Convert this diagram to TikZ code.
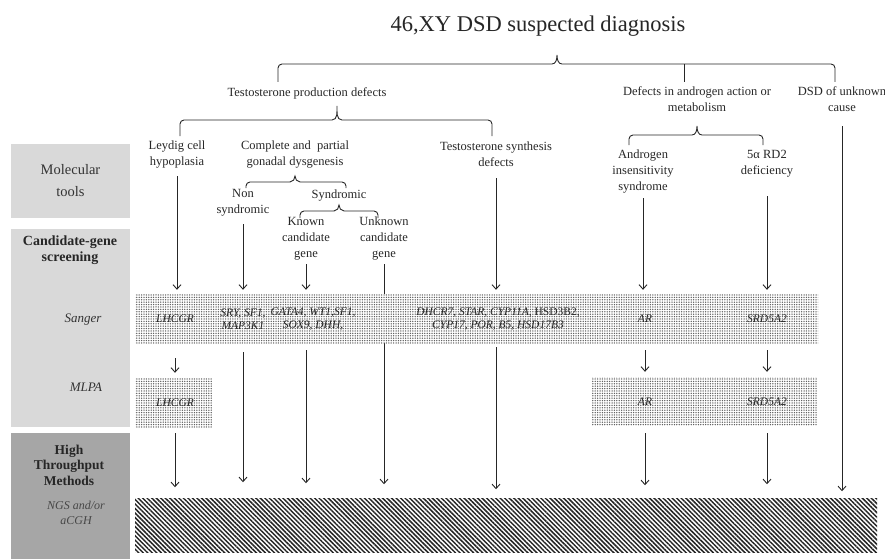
\documentclass[tikz,border=0pt]{standalone}
\usepackage{fontspec}
\setmainfont{Liberation Serif}
\usetikzlibrary{arrows.meta,patterns.meta}
\definecolor{ink}{HTML}{262626}
\definecolor{lgray}{HTML}{D9D9D9}
\definecolor{dgray}{HTML}{A6A6A6}
\definecolor{gtext}{HTML}{333333}
\newcommand{\fsz}[2]{\fontsize{#1}{#2}\selectfont}
\newcommand{\cbrace}[6]{%
  \draw[conn] (#1,#5) -- (#1,#4+4) to[out=90,in=180] (#1+4,#4) -- (#2-5,#4)
    to[out=0,in=270] (#2,#6) to[out=270,in=180] (#2+5,#4) -- (#3-4,#4)
    to[out=0,in=90] (#3,#4+4) -- (#3,#5);}
\tikzset{
  lab/.style={inner sep=0pt, align=center, text=ink, font=\fsz{12.5}{16}},
  gene/.style={inner sep=0pt, align=center, text=black!85, font=\fsz{11.5}{13}\itshape},
  side/.style={inner sep=0pt, align=center, text=gtext},
  conn/.style={draw=ink, line width=0.9pt},
  arr/.style={conn, -{Straight Barb[length=4.5pt,width=8pt]}},
  dotbox/.style={preaction={fill=white}, pattern={Dots[distance=2.4pt,radius=0.75pt]}, pattern color=black!62, inner sep=0pt},
  hatch/.style={pattern={Lines[angle=-45,distance=3.2pt,line width=1.5pt]}, pattern color=black!85, inner sep=0pt},
}
\begin{document}
\begin{tikzpicture}[x=1pt,y=-1pt]
\useasboundingbox (0,0) rectangle (885,559);

% title and category labels
\node[font=\fsz{22.5}{27}, text=ink, inner sep=0pt, anchor=base] (title) at (538,32) {46,XY DSD suspected diagnosis};
\node[lab, anchor=base] (tpd) at (307,97) {Testosterone production defects};
\node[lab] (daa) at (697,99.5) {Defects in androgen action or\\metabolism};
\node[lab] (unk) at (842,99.5) {DSD of unknown\\cause};
\node[lab] (ley) at (177,154.5) {Leydig cell\\hypoplasia};
\node[lab] (gon) at (295,154.5) {Complete and\ \ partial\\gonadal dysgenesis};
\node[lab] (tsd) at (496,154.5) {Testosterone synthesis\\defects};
\node[lab] (nons) at (243,202.5) {Non\\syndromic};
\node[lab, anchor=base] (synd) at (339,198) {Syndromic};
\node[lab] (known) at (306,238.5) {Known\\candidate\\gene};
\node[lab] (unkc) at (384,238.5) {Unknown\\candidate\\gene};
\node[lab] (ais) at (643,171.5) {Androgen\\insensitivity\\syndrome};
\node[lab] (rd2) at (767,163.5) {5α RD2\\deficiency};

% braces
\cbrace{278}{557}{835}{64}{82}{55}
\draw[conn] (684,64) -- (684,82);
\cbrace{180}{337}{492}{120}{136}{106}
\cbrace{629}{697}{763}{135}{145}{126}
\cbrace{246}{295}{346}{182}{188}{176}
\cbrace{300}{339}{378}{211}{218}{205}

% left panel
\node[fill=lgray, minimum width=119pt, minimum height=74pt, inner sep=0pt, font=\fsz{14.5}{22}, text=gtext, align=center] (mol) at (70.5,181) {Molecular\\tools};
\fill[lgray] (11,229) rectangle (130,427);
\node[side, font=\fsz{14}{15.5}\bfseries, text=black!85] (cgs) at (70,250) {Candidate-gene\\screening};
\node[side, font=\fsz{13}{15}\itshape, anchor=base] (sang) at (83,322) {Sanger};
\node[side, font=\fsz{13}{15}\itshape, anchor=base] (mlpa) at (86,391) {MLPA};
\fill[dgray] (11,433) rectangle (130,559);
\node[side, font=\fsz{13.5}{15.5}\bfseries, text=black!85] (htm) at (69,465) {High\\Throughput\\Methods};
\node[side, font=\fsz{12}{15}\itshape, text=black!72] (ngs) at (76,513) {NGS and/or\\aCGH};

% NGS box
\node[hatch, minimum width=742pt, minimum height=54pt] (ngsbox) at (506,525) {};

% line hidden behind the Sanger box
\draw[arr] ([yshift=-4pt]unkc.south) -- ([yshift=13pt]unkc.south |- ngsbox.north);

% Sanger and MLPA boxes
\node[dotbox, minimum width=683pt, minimum height=49pt] (sanger) at (476.5,318.5) {};
\node[dotbox, minimum width=77pt, minimum height=49pt] (mlpaL) at (173.5,402.5) {};
\node[dotbox, minimum width=225pt, minimum height=48pt] (mlpaR) at (704.5,401) {};

% genes
\node[gene] (g1) at (175,319) {LHCGR};
\node[gene] (g2) at (243,319) {SRY, SF1,\\MAP3K1};
\node[gene] (g3) at (313,319) {GATA4, WT1,SF1,\\SOX9, DHH,};
\node[gene] (g4) at (498,319) {DHCR7, STAR, CYP11A, {\upshape HSD3B2,}\\CYP17, POR, B5, HSD17B3};
\node[gene] (g5) at (645,319) {AR};
\node[gene] (g6) at (767,319) {SRD5A2};
\node[gene] (g7) at (175,403) {LHCGR};
\node[gene] (g8) at (645,402) {AR};
\node[gene] (g9) at (767,402) {SRD5A2};

% arrows into Sanger
\draw[arr] ([yshift=-8pt]ley.south) -- ([yshift=4pt]ley.south |- sanger.north);
\draw[arr] ([yshift=-8pt]nons.south) -- ([yshift=4pt]nons.south |- sanger.north);
\draw[arr] ([yshift=-4pt]known.south) -- ([yshift=4pt]known.south |- sanger.north);
\draw[arr] ([yshift=-11pt]tsd.south) -- ([yshift=4pt]tsd.south |- sanger.north);
\draw[arr] ([yshift=-5pt]ais.south) -- ([yshift=4pt]ais.south |- sanger.north);
\draw[arr] ([yshift=-19pt]rd2.south) -- ([yshift=4pt]rd2.south |- sanger.north);
\draw[arr] ([yshift=-14pt]unk.south) -- ([yshift=6pt]unk.south |- ngsbox.north);

% Sanger -> MLPA
\draw[arr] ([yshift=-15pt]g1.south |- sanger.south) -- ([yshift=5pt]g1.south |- mlpaL.north);
\draw[arr] ([yshift=-7pt]g5.south |- sanger.south) -- ([yshift=5pt]g5.south |- mlpaR.north);
\draw[arr] ([yshift=-7pt]g6.south |- sanger.south) -- ([yshift=5pt]g6.south |- mlpaR.north);

% to NGS
\draw[arr] ([yshift=-6pt]g7.south |- mlpaL.south) -- ([yshift=10pt]g7.south |- ngsbox.north);
\draw[arr] ([yshift=-9pt]nons.south |- sanger.south) -- ([yshift=15pt]nons.south |- ngsbox.north);
\draw[arr] ([yshift=-7pt]known.south |- sanger.south) -- ([yshift=14pt]known.south |- ngsbox.north);
\draw[arr] ([yshift=-4pt]tsd.south |- sanger.south) -- ([yshift=8pt]tsd.south |- ngsbox.north);
\draw[arr] ([yshift=-8pt]g8.south |- mlpaR.south) -- ([yshift=12pt]g8.south |- ngsbox.north);
\draw[arr] ([yshift=-8pt]g9.south |- mlpaR.south) -- ([yshift=13pt]g9.south |- ngsbox.north);
\end{tikzpicture}
\end{document}
